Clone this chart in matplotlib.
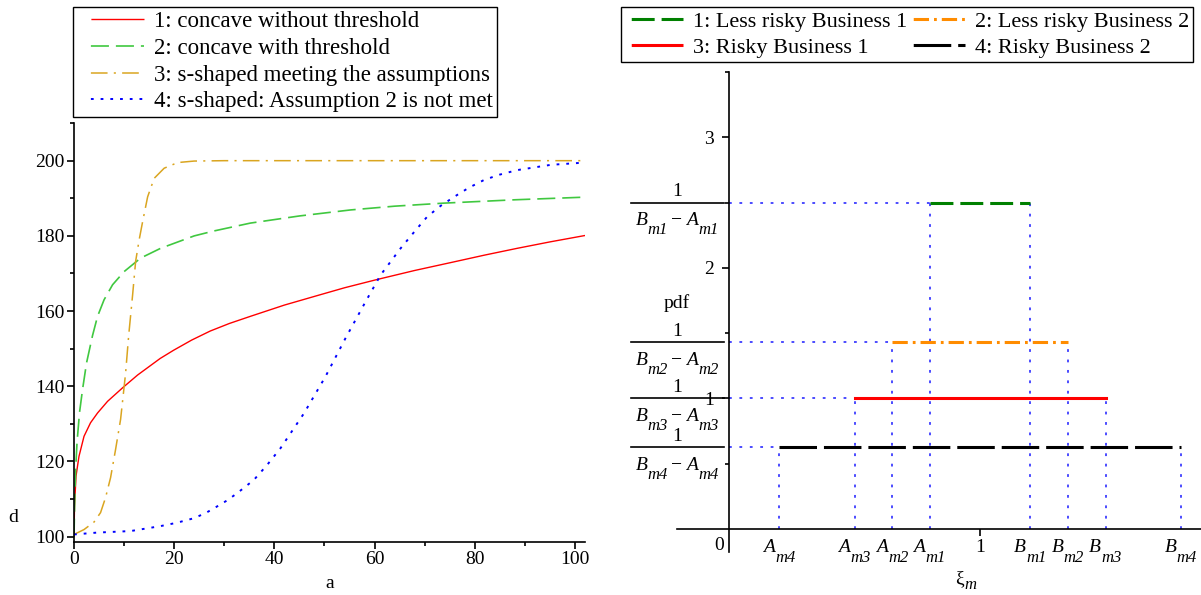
import matplotlib
matplotlib.use('Agg')
import matplotlib.pyplot as plt
from matplotlib.transforms import blended_transform_factory
from matplotlib.font_manager import FontProperties
from matplotlib.lines import Line2D

plt.rcParams['font.family'] = ['Liberation Serif', 'DejaVu Serif']
plt.rcParams['mathtext.fontset'] = 'custom'
plt.rcParams['mathtext.rm'] = 'Liberation Serif'
plt.rcParams['mathtext.it'] = 'Liberation Serif:italic'
plt.rcParams['lines.scale_dashes'] = False

# ---------------- data: left panel ----------------
a_red = [0, 0.1, 0.4, 1.0, 2.0, 3.3, 4.7, 6.7, 9.7, 12.7, 17.2, 19.9, 23.5, 27.2, 31, 35.2, 42, 48.5, 54, 60.2, 68, 75.2, 82, 88.5, 95, 102]
d_red = [100, 108, 116.1, 121.4, 126.7, 130.3, 132.9, 136.0, 139.6, 143.0, 147.4, 149.6, 152.3, 154.7, 156.7, 158.6, 161.6, 164.1, 166.2, 168.3, 170.8, 172.9, 174.9, 176.7, 178.4, 180.1]

a_green = [0, 0.13, 0.33, 0.6, 1.1, 1.7, 2.5, 3.7, 4.7, 6.0, 7.7, 10.0, 13.3, 17.3, 24.0, 27.9, 35.2, 45, 55.2, 64, 73.7, 88, 102]
d_green = [100, 109, 117.9, 125, 133, 139.1, 146.2, 153.5, 158.6, 163.0, 167.0, 170.5, 174.1, 176.7, 180.0, 181.3, 183.4, 185.3, 186.9, 187.9, 188.7, 189.6, 190.3]

a_orange = [0, 2.0, 4.0, 5.3, 6.3, 7.3, 8.3, 9.3, 10.3, 10.9, 11.7, 12.3, 13.0, 13.7, 14.7, 16.0, 18.0, 20.7, 24.0, 30, 102]
d_orange = [100.6, 101.9, 103.9, 106.4, 110.4, 115.7, 123.2, 131.2, 143.5, 153.3, 164.3, 173.2, 178.9, 183.8, 190.4, 195.3, 198.0, 199.5, 199.9, 200, 200]

a_blue = [0, 4.7, 11.3, 17.2, 20.5, 23.9, 26.3, 28.5, 30.5, 32.5, 35.9, 38.5, 41.2, 45.9, 50.2, 54.2, 58.2, 61.2, 65.2, 68, 70.5, 73.2, 75.9, 78.8, 81.9, 85, 88.5, 95.2, 102]
d_blue = [100.6, 101.1, 101.5, 102.8, 103.7, 104.9, 106.3, 108.0, 109.6, 111.5, 115.1, 119.0, 123.5, 132.8, 142.6, 152.8, 162.5, 169.6, 176.7, 181.2, 185.1, 188.0, 190.4, 192.8, 194.9, 196.3, 197.5, 198.9, 199.5]

left_labels = ["1: concave without threshold", "2: concave with threshold",
               "3: s-shaped meeting the assumptions", "4: s-shaped: Assumption 2 is not met"]
left_xticks = [0, 20, 40, 60, 80, 100]
left_yticks = [100, 120, 140, 160, 180, 200]

# ---------------- data: right panel ----------------
A_vals = [0.8, 0.65, 0.5, 0.2]
B_vals = [1.2, 1.35, 1.5, 1.8]
pdf_heights = [2.5, 1.43, 1.0, 0.625]
idx_names = ['1', '2', '3', '4']
right_labels = ["1: Less risky Business 1", "2: Less risky Business 2",
                "3: Risky Business 1", "4: Risky Business 2"]

W, H = 1201, 595
fig = plt.figure(figsize=(W / 100, H / 100), dpi=100)
renderer = fig.canvas.get_renderer()


def px_axes(l, r, top, bottom):
    return [l / W, 1 - bottom / H, (r - l) / W, (bottom - top) / H]


FS = 14
SUB = 12


def tw(s, size, style):
    fp = FontProperties(family='Liberation Serif', style=style, size=size)
    w, h, d = renderer.get_text_width_height_descent(s, fp, ismath=False)
    return w * 72 / fig.dpi


def composite(ax, pieces, xy, xycoords, yoff):
    """pieces: list of (text, size, style, dy) or a float gap in points"""
    total = 0
    for p in pieces:
        total += p if isinstance(p, (int, float)) else tw(p[0], p[1], p[2])
    x = -total / 2
    for p in pieces:
        if isinstance(p, (int, float)):
            x += p
            continue
        s, size, style, dy = p
        ax.annotate(s, xy=xy, xycoords=xycoords, xytext=(x, yoff + dy), textcoords='offset points',
                    ha='left', va='baseline', fontsize=size, style=style, annotation_clip=False)
        x += tw(s, size, style)


def proxy(color, lw, pattern, gap, label):
    if pattern is None:
        seq = [1000.0, gap]
    else:
        seq = list(pattern) * 8
        seq[-1] = gap
    off = sum(seq[:-1])
    return Line2D([], [], color=color, lw=lw, linestyle=(off, tuple(seq)), label=label)


# ================= left panel =================
ax1 = fig.add_axes(px_axes(74, 585, 122.7, 541.7))
ax1.set_xlim(0, 102)
ax1.set_ylim(98.67, 210.1)
left_styles = [dict(color='#ff0000', lw=1.0, pattern=None),
               dict(color='#40c840', lw=1.2, pattern=(13, 5)),
               dict(color='#daa520', lw=1.1, pattern=(12, 4.5, 1.5, 4.5)),
               dict(color='#0000ff', lw=1.4, pattern=(2, 5))]
for (xs, ys), st, lab in zip([(a_red, d_red), (a_green, d_green), (a_orange, d_orange), (a_blue, d_blue)],
                             left_styles, left_labels):
    if st['pattern'] is None:
        ax1.plot(xs, ys, color=st['color'], lw=st['lw'])
    else:
        ax1.plot(xs, ys, color=st['color'], lw=st['lw'], dashes=st['pattern'])
for s in ['top', 'right']:
    ax1.spines[s].set_visible(False)
for s in ['left', 'bottom']:
    ax1.spines[s].set_linewidth(1.2)
ax1.set_xticks(left_xticks)
ax1.set_xticks([10, 30, 50, 70, 90], minor=True)
ax1.set_yticks(left_yticks)
ax1.set_yticks([110, 130, 150, 170, 190, 210], minor=True)
ax1.tick_params(which='major', length=5, width=1.2, labelsize=FS, pad=2)
ax1.tick_params(which='minor', length=3, width=1.2)
fig.text(330 / W, 1 - 583 / H, 'a', ha='center', va='center', fontsize=FS)
fig.text(13 / W, 1 - 518 / H, 'd', ha='center', va='center', fontsize=FS)

lh = [proxy(st['color'], st['lw'], st['pattern'], 10, lab) for st, lab in zip(left_styles, left_labels)]
leg1 = fig.legend(handles=lh, loc='upper left', bbox_to_anchor=(73 / W, 1 - 7 / H),
                  fontsize=16.5, frameon=True, fancybox=False, framealpha=1, edgecolor='black',
                  borderaxespad=0, handlelength=2.9, handletextpad=0.45, labelspacing=0.25, borderpad=0.18)
leg1.get_frame().set_linewidth(1.0)

# ================= right panel =================
ax2 = fig.add_axes(px_axes(677, 1201, 72, 552))
ax2.set_xlim(-0.207, 1.88)
ax2.set_ylim(-0.176, 3.5)
for s in ['top', 'right']:
    ax2.spines[s].set_visible(False)
ax2.spines['left'].set_position(('data', 0))
ax2.spines['bottom'].set_position(('data', 0))
for s in ['left', 'bottom']:
    ax2.spines[s].set_linewidth(1.2)

dot_kw = dict(color='#1a1aff', lw=1.1, dashes=(2, 5.5), zorder=1)
for A, B, h in zip(A_vals, B_vals, pdf_heights):
    ax2.plot([0, A], [h, h], **dot_kw)
    ax2.plot([A, A], [0, h], **dot_kw)
    ax2.plot([B, B], [0, h], **dot_kw)

right_styles = [dict(color='#008000', pattern=(16.5, 5)),
                dict(color='#ff8c00', pattern=(11, 3.6, 2, 3.6)),
                dict(color='#ff0000', pattern=None),
                dict(color='#000000', pattern=(27, 5))]
for A, B, h, st in zip(A_vals, B_vals, pdf_heights, right_styles):
    if st['pattern'] is None:
        ax2.plot([A, B], [h, h], lw=2.2, color=st['color'], zorder=3)
    else:
        ax2.plot([A, B], [h, h], lw=2.2, color=st['color'], dashes=st['pattern'], zorder=3)

ax2.set_yticks([1, 2, 3])
ax2.set_yticks([0.5, 1.5, 2.5, 3.5], minor=True)
ax2.set_xticks([1])
ax2.tick_params(axis='y', which='major', length=5, width=1.2, labelsize=FS, pad=6)
ax2.tick_params(axis='y', which='minor', length=3, width=1.2)
ax2.tick_params(axis='x', which='major', length=5, width=1.2, labelsize=FS, pad=2)

# A / B labels below the axis
trans_x = blended_transform_factory(ax2.transData, fig.transFigure)
base_y = 1 - 552 / H
for A, k in zip(A_vals, idx_names):
    composite(ax2, [('A', FS, 'italic', 0), 0.3, ('m' + k, SUB, 'italic', -7)], (A, base_y), trans_x, 0)
for B, k in zip(B_vals, idx_names):
    composite(ax2, [('B', FS, 'italic', 0), 0.3, ('m' + k, SUB, 'italic', -7)], (B, base_y), trans_x, 0)

# fraction labels 1/(B-A)
trans = blended_transform_factory(fig.transFigure, ax2.transData)
for h, k in zip(pdf_heights, idx_names):
    ax2.plot([631 / W, 724 / W], [h, h], color='black', lw=1.2, transform=trans, clip_on=False)
    ax2.annotate('1', xy=(677 / W, h), xycoords=trans, xytext=(0, 4.8), textcoords='offset points',
                 ha='center', va='baseline', fontsize=FS, annotation_clip=False)
    composite(ax2, [('B', FS, 'italic', 0), 0.3, ('m' + k, SUB, 'italic', -6.5), 2.5,
                    ('\u2212', FS, 'normal', 0), 2.5,
                    ('A', FS, 'italic', 0), 0.3, ('m' + k, SUB, 'italic', -6.5)],
              (677 / W, h), trans, -16.3)

fig.text(677 / W, 1 - 303 / H, 'pdf', ha='center', va='center', fontsize=FS)
fig.text(719 / W, 1 - 546 / H, '0', ha='center', va='center', fontsize=FS)
composite(fig.axes[1], [('\u03be', FS, 'normal', 0), 0.3, ('m', SUB, 'italic', -4)],
          (966 / W, 1 - 583 / H), fig.transFigure, 0)

rh = [proxy(st['color'], 2.2, st['pattern'], 4.5, lab) for st, lab in zip(right_styles, right_labels)]
leg2 = fig.legend(handles=[rh[0], rh[2], rh[1], rh[3]], ncol=2, loc='upper left',
                  bbox_to_anchor=(621 / W, 1 - 7 / H), fontsize=16, frameon=True, fancybox=False,
                  framealpha=1, edgecolor='black', borderaxespad=0, handlelength=2.6,
                  handletextpad=0.45, labelspacing=0.25, borderpad=0.18, columnspacing=0.0)
leg2.get_frame().set_linewidth(1.0)

fig.savefig('out.png', dpi=100)
